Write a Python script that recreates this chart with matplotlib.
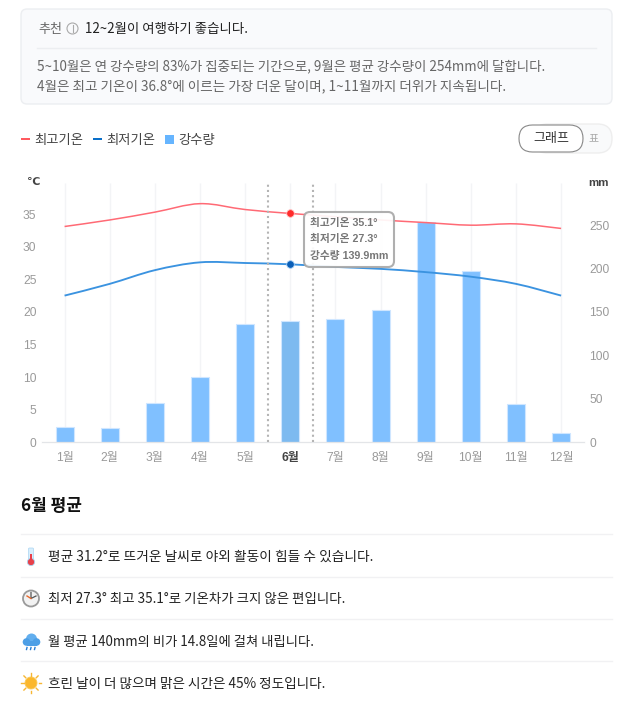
import numpy as np
import matplotlib
matplotlib.use('Agg')
import matplotlib.pyplot as plt
from matplotlib.path import Path
from matplotlib.patches import PathPatch, FancyBboxPatch, Rectangle, Circle, Ellipse

plt.rcParams['font.family'] = ['Noto Sans CJK KR', 'DejaVu Sans']
chart_font = ['Liberation Sans', 'Noto Sans CJK KR']

# Daten
months = ['1월', '2월', '3월', '4월', '5월', '6월', '7월', '8월', '9월', '10월', '11월', '12월']
temp_high = [33.1, 34.1, 35.3, 36.6, 35.7, 35.1, 34.6, 34.1, 33.7, 33.3, 33.5, 32.8]
temp_low = [22.5, 24.3, 26.4, 27.6, 27.5, 27.3, 26.9, 26.6, 26.1, 25.4, 24.3, 22.5]
rain = [17.6, 16.9, 44.9, 74.8, 136.1, 139.9, 141.9, 151.9, 254, 196.8, 44.5, 10.7]
temp_ticks = [0, 5, 10, 15, 20, 25, 30, 35]
rain_ticks = [0, 50, 100, 150, 200, 250]
selected = 5

W, H = 632, 711
fig = plt.figure(figsize=(W / 100, H / 100), dpi=100)


def px(size):
    return size * 0.72


def smooth_path(xs, ys):
    # Bezier durch die Monatswerte (Catmull-Rom)
    verts = [(xs[0], ys[0])]
    codes = [Path.MOVETO]
    n = len(xs)
    for i in range(n - 1):
        p0 = i - 1 if i > 0 else i
        p3 = i + 2 if i + 2 < n else i + 1
        verts.append((xs[i] + (xs[i + 1] - xs[p0]) / 6, ys[i] + (ys[i + 1] - ys[p0]) / 6))
        verts.append((xs[i + 1] - (xs[p3] - xs[i]) / 6, ys[i + 1] - (ys[p3] - ys[i]) / 6))
        verts.append((xs[i + 1], ys[i + 1]))
        codes += [Path.CURVE4] * 3
    return Path(verts, codes)


# Chart
left, right, top, bottom = 42, 583.7, 183, 442.3
ax = fig.add_axes([left / W, 1 - bottom / H, (right - left) / W, (bottom - top) / H])
ax2 = ax.twinx()
x = np.arange(12)
ax.set_xlim(-0.5, 11.5)
ax.set_ylim(0, (bottom - top) / 6.52)
ax2.set_ylim(0, (bottom - top) / 0.869)
ax.set_zorder(2)
ax2.set_zorder(1)
ax.patch.set_visible(False)

ax2.vlines(x, 0, ax2.get_ylim()[1], color='#f3f4f6', lw=1, zorder=0)
bar_colors = ['#80c0ff'] * 12
bar_colors[selected] = '#7dbaf0'
ax2.bar(x, rain, width=0.4, color=bar_colors, edgecolor='#cfe6ff', linewidth=0.8, zorder=2)

ax.add_patch(PathPatch(smooth_path(x, temp_high), fc='none', ec='#ff6a75', lw=1.1, zorder=3))
ax.add_patch(PathPatch(smooth_path(x, temp_low), fc='none', ec='#3b93e0', lw=1.35, zorder=3))
ax.vlines([selected - 0.5, selected + 0.5], 0, ax.get_ylim()[1] - 0.2, color='#b4b4b4', lw=1.5,
          linestyles=(0, (1, 1.5)), zorder=4)
ax.scatter([selected], [temp_high[selected]], s=30, color='#ff2b2b', edgecolor='#ffc0c0', lw=0.6, zorder=5)
ax.scatter([selected], [temp_low[selected]], s=30, color='#0a5fb8', edgecolor='#a8d0f5', lw=0.6, zorder=5)

ax.set_xticks(x, months, family=chart_font)
ax.set_yticks(temp_ticks)
ax2.set_yticks(rain_ticks)
ax.tick_params(axis='y', length=0, pad=4, labelsize=px(12), labelcolor='#9a9a9a')
ax2.tick_params(axis='y', length=0, pad=4, labelsize=px(12), labelcolor='#9a9a9a')
ax.tick_params(axis='x', length=0, pad=7, labelsize=px(12), labelcolor='#9a9a9a')
for t in ax.get_yticklabels() + ax2.get_yticklabels():
    t.set_family(chart_font)
ax.get_xticklabels()[selected].set_color('#444444')
ax.get_xticklabels()[selected].set_fontweight('bold')
for a in (ax, ax2):
    for name, spine in a.spines.items():
        spine.set_visible(name == 'bottom')
    a.spines['bottom'].set_color('#e3e5e8')

# Rest der Seite in Pixelkoordinaten
ov = fig.add_axes([0, 0, 1, 1], zorder=5)
ov.set_xlim(0, W)
ov.set_ylim(H, 0)
ov.axis('off')
ov.patch.set_visible(False)


def label(xp, yp, s, size=13, color='#333333', **kw):
    kw.setdefault('va', 'center')
    ov.text(xp, yp + 1.2, s, fontsize=px(size), color=color, **kw)


ov.text(27, 182, '℃', fontsize=px(11), color='#444444', va='center', fontweight='bold', family=['DejaVu Sans'])
ov.text(588, 183, 'mm', fontsize=px(11.5), color='#444444', va='center', fontweight='bold', family=chart_font)

# Tooltip
ov.add_patch(FancyBboxPatch((308, 216), 82, 47, boxstyle='round,pad=4,rounding_size=6',
                            fc='#ffffff', ec='#a8a8a8', lw=1.5, alpha=0.92))
label(310.5, 221.5, '최고기온 35.1°', 10.7, '#777777', fontweight='bold', family=chart_font)
label(310.5, 238, '최저기온 27.3°', 10.7, '#777777', fontweight='bold', family=chart_font)
label(310.5, 254.5, '강수량 139.9mm', 10.7, '#777777', fontweight='bold', family=chart_font)

# Kasten oben
ov.add_patch(FancyBboxPatch((25, 13), 583, 87, boxstyle='round,pad=4,rounding_size=6',
                            fc='#f9fafc', ec='#eceef1', lw=1))
label(38, 28, '추천', 13, '#666666')
ov.add_patch(Circle((72.5, 28.5), 5.5, fc='none', ec='#aaaaaa', lw=0.8))
ov.plot([72.5, 72.5], [27, 32], color='#aaaaaa', lw=0.8)
ov.plot([72.5, 72.5], [25, 26], color='#aaaaaa', lw=0.8)
label(85, 28, '12~2월이 여행하기 좋습니다.', 13.4, '#222222')
ov.plot([37, 596], [47.5, 47.5], color='#eceef1', lw=1)
label(37, 65, '5~10월은 연 강수량의 83%가 집중되는 기간으로, 9월은 평균 강수량이 254mm에 달합니다.', 13.48, '#666666')
label(37, 85, '4월은 최고 기온이 36.8°에 이르는 가장 더운 달이며, 1~11월까지 더위가 지속됩니다.', 13.57, '#666666')

# Legende
ov.add_patch(Rectangle((21, 137.5), 9, 2.5, fc='#ff5a5f', lw=0))
label(34, 138.5, '최고기온', 13.3, '#444444')
ov.add_patch(Rectangle((93, 137.5), 9, 2.5, fc='#0a6fc9', lw=0))
label(106, 138.5, '최저기온', 13.3, '#444444')
ov.add_patch(Rectangle((165, 134.5), 9, 9, fc='#66b5ff', lw=0))
label(178, 138.5, '강수량', 13.3, '#444444')

# Umschalter
ov.add_patch(FancyBboxPatch((533, 124), 79, 29, boxstyle='round,pad=0,rounding_size=14.5',
                            fc='#f9fafb', ec='#eeeeee', lw=1))
ov.add_patch(FancyBboxPatch((519, 125), 64, 27, boxstyle='round,pad=0,rounding_size=13.5',
                            fc='#ffffff', ec='#888888', lw=0.8))
label(551, 137.5, '그래프', 13, '#333333', ha='center')
label(594, 137.5, '표', 11, '#aaaaaa', ha='center')

# 6월 평균
label(21, 505, '6월 평균', 17, '#111111', fontweight='bold')
for yp in [534, 576.5, 619, 661]:
    ov.plot([21, 612], [yp, yp], color='#f1f1f3', lw=1)
label(48, 555.5, '평균 31.2°로 뜨거운 날씨로 야외 활동이 힘들 수 있습니다.', 13.68, '#222222')
label(48, 598, '최저 27.3° 최고 35.1°로 기온차가 크지 않은 편입니다.', 13.45, '#222222')
label(48, 640.5, '월 평균 140mm의 비가 14.8일에 걸쳐 내립니다.', 13.3, '#222222')
label(48, 683, '흐린 날이 더 많으며 맑은 시간은 45% 정도입니다.', 13.65, '#222222')

# Icons
ov.add_patch(FancyBboxPatch((29.5, 549), 3, 12, boxstyle='round,pad=1', fc='#d8eefc', ec='#a9d4f2', lw=0.5))
ov.add_patch(Circle((31, 562), 3.6, fc='#e8414a', ec='#a9d4f2', lw=0.6))
ov.add_patch(Rectangle((30.3, 554), 1.4, 7, fc='#e8414a', lw=0))
ov.add_patch(Circle((31, 598.5), 8, fc='#f2f2f2', ec='#9a9a9a', lw=1.3))
ov.plot([31, 31, 36], [592.5, 598.5, 596], color='#555555', lw=0.9)
ov.plot([31, 27], [598.5, 596], color='#e8692c', lw=1)
ov.add_patch(Ellipse((31.5, 639), 11, 11, fc='#62aeee', lw=0))
ov.add_patch(Circle((26.5, 642), 3.8, fc='#4d9fe6', lw=0))
ov.add_patch(Circle((36.5, 642), 3.8, fc='#4d9fe6', lw=0))
ov.add_patch(Rectangle((26.5, 641), 10, 4.8, fc='#4d9fe6', lw=0))
for xr in [27, 31, 35]:
    ov.plot([xr, xr - 0.5], [647.5, 649.5], color='#2a7fd4', lw=1)
for ang in np.deg2rad(np.arange(0, 360, 45)):
    ov.plot([31 + 7.5 * np.cos(ang), 31 + 10 * np.cos(ang)], [683 + 7.5 * np.sin(ang), 683 + 10 * np.sin(ang)],
            color='#f7b733', lw=1)
ov.add_patch(Circle((31, 683), 6, fc='#fbb72c', ec='#f9c95a', lw=0.6))

plt.savefig('out.png', dpi=100)
